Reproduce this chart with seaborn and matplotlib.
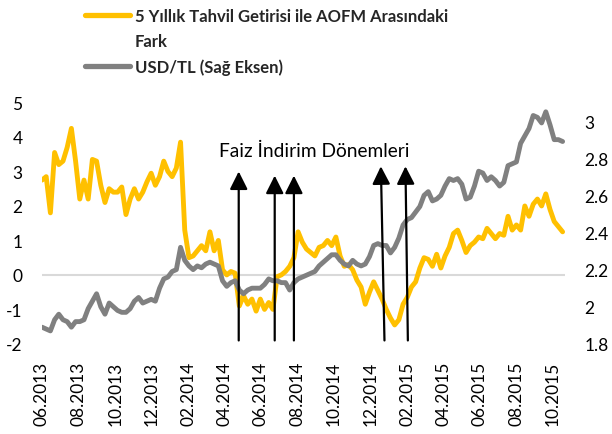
import numpy as np
import pandas as pd
import matplotlib
matplotlib.use("Agg")
import matplotlib.pyplot as plt
import matplotlib.dates as mdates
from matplotlib.lines import Line2D
import seaborn as sns

# ---------------- data ----------------
start_date = "2013-06-01"
spread = [2.75, 2.85, 1.8, 3.55, 3.2, 3.3, 3.7, 4.25, 3.3, 2.2,
          2.75, 2.2, 3.35, 3.3, 2.6, 2.1, 2.5, 2.4, 2.4, 2.55,
          1.75, 2.2, 2.5, 2.2, 2.4, 2.7, 2.95, 2.6, 2.85, 3.3,
          3.0, 2.85, 3.1, 3.85, 1.3, 0.5, 0.55, 0.7, 0.85, 0.7,
          1.25, 0.7, 1.0, 0.15, 0.0, 0.1, 0.05, -0.9, -0.6, -0.85,
          -0.7, -1.05, -0.7, -1.0, -0.8, -1.0, -0.05, 0.0, 0.1, 0.25,
          0.5, 1.25, 0.95, 0.75, 0.65, 0.55, 0.8, 0.85, 1.0, 0.85,
          1.1, 0.55, 0.25, 0.3, 0.15, -0.15, -0.35, -0.85, -0.5, -0.2,
          -0.45, -0.7, -1.0, -1.25, -1.45, -1.3, -0.85, -0.65, -0.35, -0.2,
          0.2, 0.5, 0.45, 0.25, 0.6, 0.2, 0.55, 0.8, 1.2, 1.3,
          1.0, 0.65, 0.85, 0.95, 1.1, 1.05, 1.35, 1.2, 1.05, 1.2,
          1.15, 1.7, 1.3, 1.45, 1.3, 2.0, 1.7, 2.05, 2.2, 2.0,
          2.35, 1.9, 1.55, 1.4, 1.25]
usdtl = [1.89, 1.88, 1.87, 1.93, 1.96, 1.93, 1.92, 1.89, 1.92, 1.92,
         1.93, 1.99, 2.03, 2.07, 2.0, 1.96, 2.02, 2.0, 1.98, 1.97,
         1.97, 1.99, 2.03, 2.05, 2.02, 2.03, 2.04, 2.03, 2.1, 2.15,
         2.16, 2.19, 2.2, 2.32, 2.25, 2.22, 2.2, 2.22, 2.21, 2.23,
         2.24, 2.23, 2.22, 2.14, 2.11, 2.13, 2.14, 2.09, 2.07, 2.09,
         2.1, 2.1, 2.1, 2.12, 2.15, 2.14, 2.14, 2.13, 2.13, 2.09,
         2.13, 2.15, 2.16, 2.17, 2.18, 2.19, 2.22, 2.24, 2.26, 2.28,
         2.28, 2.25, 2.23, 2.22, 2.25, 2.23, 2.22, 2.23, 2.27, 2.33,
         2.34, 2.33, 2.33, 2.29, 2.32, 2.37, 2.44, 2.47, 2.48, 2.51,
         2.54, 2.6, 2.62, 2.57, 2.58, 2.6, 2.65, 2.69, 2.68, 2.69,
         2.66, 2.58, 2.59, 2.65, 2.73, 2.72, 2.68, 2.7, 2.68, 2.65,
         2.67, 2.76, 2.77, 2.78, 2.88, 2.92, 2.96, 3.03, 3.02, 2.99,
         3.05, 2.98, 2.9, 2.9, 2.89]
dates = pd.date_range(start_date, periods=len(spread), freq="7D")

tick_dates = pd.date_range("2013-06-01", "2015-10-01", freq="2MS")
left_ticks = [-2, -1, 0, 1, 2, 3, 4, 5]
right_ticks = [1.8, 2.0, 2.2, 2.4, 2.6, 2.8, 3.0]

label_spread = "5 Yıllık Tahvil Getirisi ile AOFM Arasındaki"
label_spread_2 = "Fark"
label_usd = "USD/TL (Sağ Eksen)"
annot_text = "Faiz İndirim Dönemleri"
annot_date = "2014-08-29"
annot_y = 3.6

# rate-cut arrows: (bottom date, top date, top value)
arrow_bottom_dates = ["2014-04-25", "2014-06-24", "2014-07-26", "2014-12-24", "2015-02-01"]
arrow_top_dates = ["2014-04-25", "2014-06-24", "2014-07-26", "2014-12-18", "2015-01-28"]
arrow_tops = [3.0, 2.88, 2.88, 3.15, 3.15]
arrow_bottom = -1.9

YELLOW = "#FFC000"
GRAY = "#808080"

# ---------------- style ----------------
sns.set_style("white")
plt.rcParams["font.family"] = ["Lato", "DejaVu Sans"]

fig = plt.figure(figsize=(6.12, 4.35), dpi=100)
W, H = 612, 435
ax = fig.add_axes([42 / W, 1 - 344.9 / H, (565 - 42) / W, (344.9 - 103.5) / H])

df = pd.DataFrame({"date": dates, "spread": spread, "usdtl": usdtl})

ax.axhline(0, color="#D9D9D9", lw=1.5, zorder=0)
sns.lineplot(data=df, x="date", y="spread", ax=ax, color=YELLOW, lw=3.5)
ax2 = ax.twinx()
sns.lineplot(data=df, x="date", y="usdtl", ax=ax2, color=GRAY, lw=3.5)

ax.set_xlim(pd.Timestamp("2013-06-01"), pd.Timestamp("2015-10-21"))
ax.set_ylim(-2, 5)
ax2.set_ylim(1.8, 3.1)
ax.set_yticks(left_ticks)
ax.set_yticklabels([f"{v:g}" for v in left_ticks])
ax2.set_yticks(right_ticks)
ax2.set_yticklabels([f"{v:g}" for v in right_ticks])
ax.set_xticks(tick_dates)
ax.xaxis.set_major_formatter(mdates.DateFormatter("%m.%Y"))

for a in (ax, ax2):
    for s in a.spines.values():
        s.set_visible(False)
    a.set_xlabel("")
    a.set_ylabel("")
    a.grid(False)

ax.tick_params(axis="x", length=0, pad=12, labelsize=12.5, labelrotation=90, colors="black")
ax.tick_params(axis="y", length=0, pad=14, labelsize=12.5, colors="black")
ax2.tick_params(axis="y", length=0, pad=14, labelsize=12.5, colors="black")

# arrows (drawn above the lines)
for bd, td, top in zip(arrow_bottom_dates, arrow_top_dates, arrow_tops):
    ax2.annotate("", xy=(mdates.date2num(pd.Timestamp(td)), top), xycoords=ax.transData,
                 xytext=(mdates.date2num(pd.Timestamp(bd)), arrow_bottom), textcoords=ax.transData,
                 arrowprops=dict(arrowstyle="-|>,head_length=0.6,head_width=0.3",
                                 mutation_scale=18, color="black", lw=1.6,
                                 shrinkA=0, shrinkB=0))

ax2.text(mdates.date2num(pd.Timestamp(annot_date)), annot_y, annot_text,
         transform=ax.transData, ha="center", va="center", fontsize=13.8, color="black")

handles = [Line2D([], [], color=YELLOW, lw=3.8),
           Line2D([], [], color="none", lw=0),
           Line2D([], [], color=GRAY, lw=3.8)]
fig.legend(handles, [label_spread, label_spread_2, label_usd],
           loc="upper left", bbox_to_anchor=(85 / W, 1 - 9 / H),
           frameon=False, borderpad=0, borderaxespad=0,
           handlelength=2.7, handletextpad=0.3, labelspacing=0.55,
           prop={"weight": "bold", "size": 12})

fig.savefig("out.png", dpi=100)
